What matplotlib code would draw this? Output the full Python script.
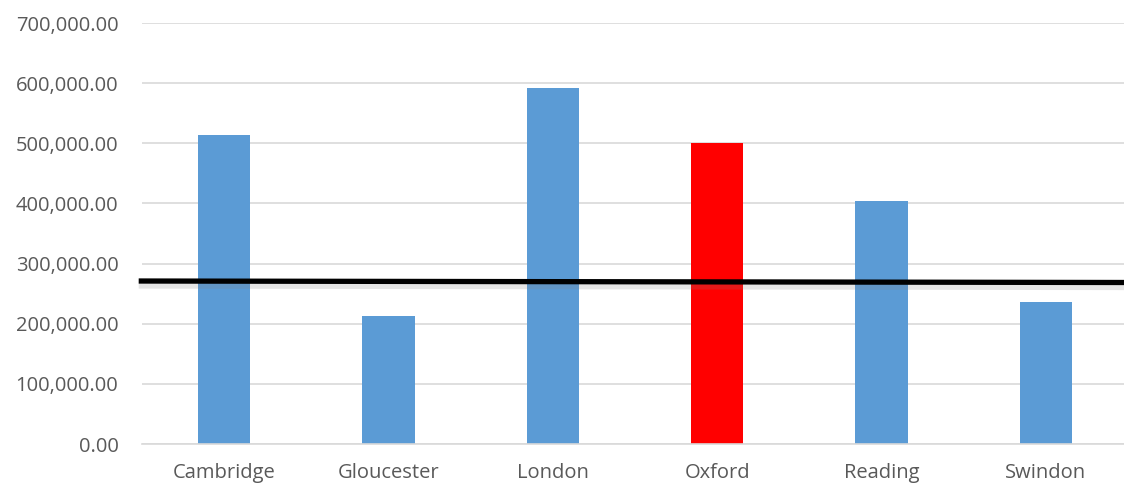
import matplotlib
matplotlib.use("Agg")
import matplotlib.pyplot as plt
import matplotlib.patheffects as pe
from matplotlib.ticker import FuncFormatter

cities = ["Cambridge", "Gloucester", "London", "Oxford", "Reading", "Swindon"]
prices = [513800, 212800, 592000, 500500, 404000, 236000]
highlight = "Oxford"
avg_start = 271000
avg_end = 268500

plt.rcParams['font.family'] = ['Open Sans', 'DejaVu Sans']

fig = plt.figure(figsize=(11.24, 4.88), dpi=100)
ax = fig.add_axes([142 / 1124, 1 - 444 / 488, 986 / 1124, 421 / 488])

colors = ['#ff0000' if c == highlight else '#5b9bd5' for c in cities]
x = range(len(cities))
ax.bar(x, prices, width=0.32, color=colors, zorder=2)

ax.set_xlim(-0.5, len(cities) - 0.5)
ax.set_ylim(0, 700000)
ax.set_yticks(range(0, 700001, 100000))
ax.yaxis.set_major_formatter(FuncFormatter(lambda v, p: f"{v:,.2f}"))
ax.set_xticks(list(x))
ax.set_xticklabels(cities)

ax.grid(axis='y', color='#d9d9d9', linewidth=1.2, zorder=0)
for s in ['top', 'right', 'left']:
    ax.spines[s].set_visible(False)
ax.spines['bottom'].set_color('#d9d9d9')
ax.spines['bottom'].set_linewidth(1.2)
ax.tick_params(axis='both', length=0, labelsize=14.5, labelcolor='#595959')
ax.tick_params(axis='y', pad=17)
ax.tick_params(axis='x', pad=14)

# average line, slightly tilted, with a soft shadow
ax.plot([-0.52, 5.55], [avg_start, avg_end], color='black', linewidth=3.8,
        clip_on=False, zorder=3, solid_capstyle='butt',
        path_effects=[pe.SimpleLineShadow(offset=(0, -2), shadow_color='gray', alpha=0.2,
                                          linewidth=7),
                      pe.Normal()])

fig.savefig("out.png", dpi=100)
